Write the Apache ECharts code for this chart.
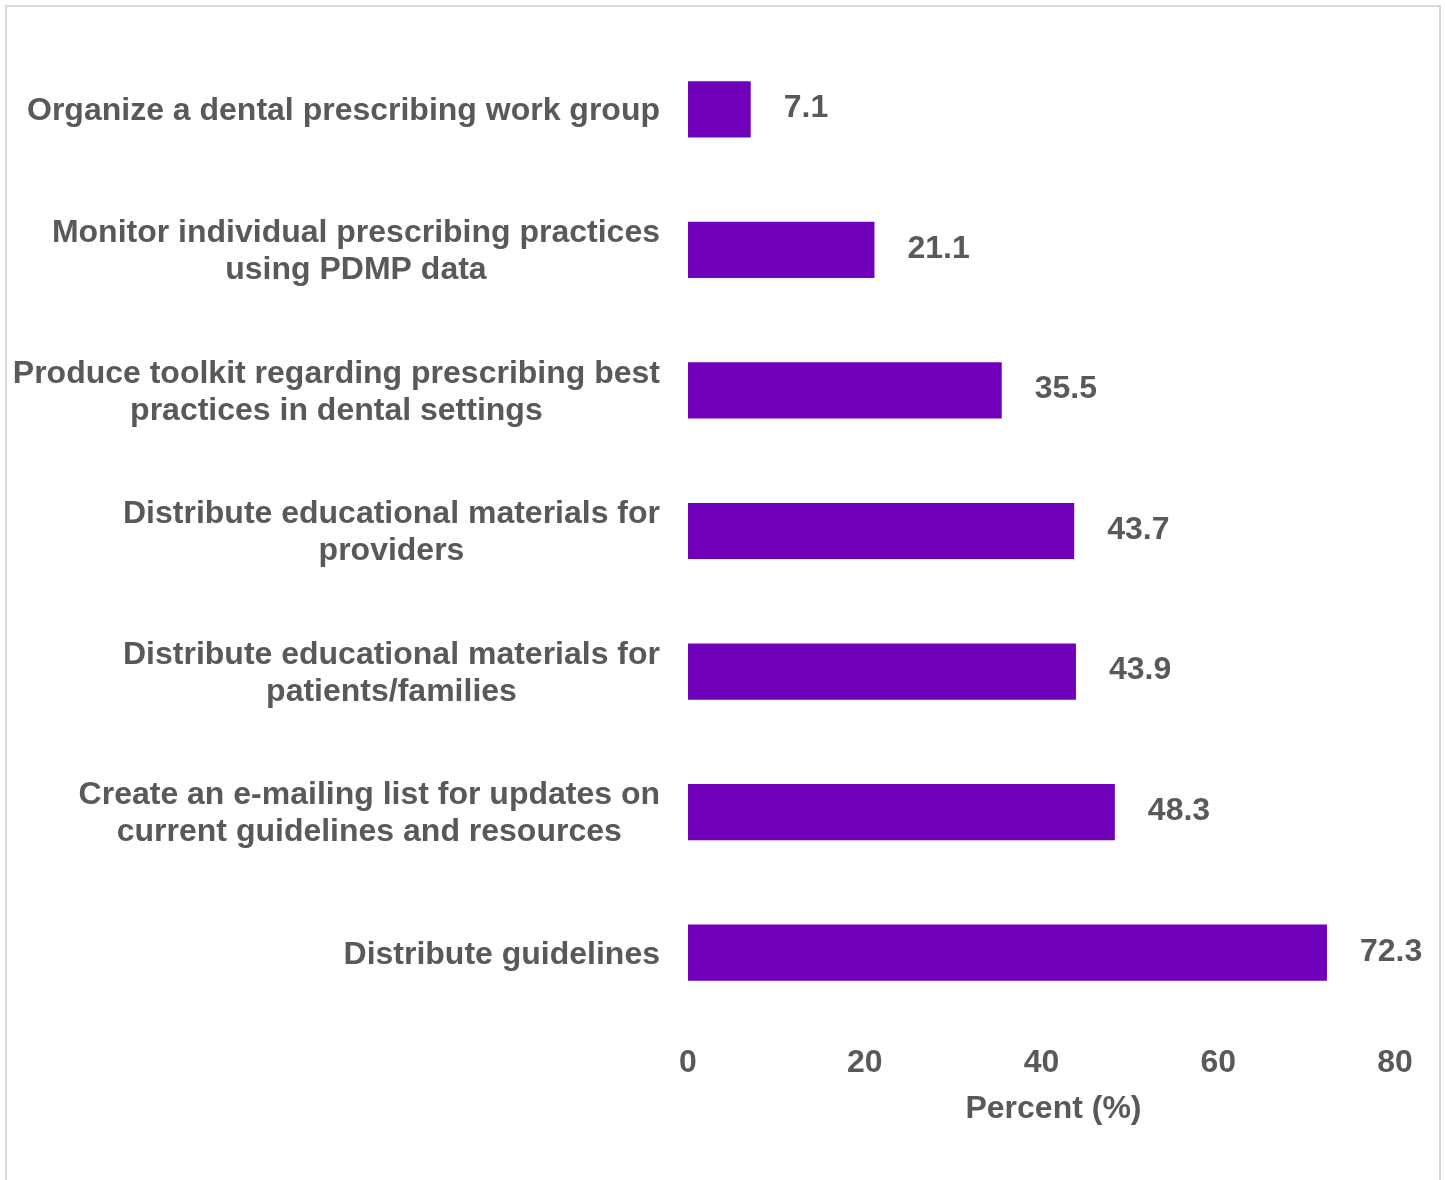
<!DOCTYPE html>
<html>
<head>
<meta charset="utf-8">
<title>Dental prescribing activities</title>
<script src="https://cdn.jsdelivr.net/npm/echarts@6/dist/echarts.min.js"></script>
<style>
  html, body { margin: 0; padding: 0; background: #ffffff; }
  #chart { width: 1445px; height: 1180px; }
</style>
</head>
<body>
<div id="chart"></div>
<script>
// Activities, listed top to bottom
const categories = [
  'Organize a dental prescribing work group',
  'Monitor individual prescribing practices\nusing PDMP data',
  'Produce toolkit regarding prescribing best\npractices in dental settings',
  'Distribute educational materials for\nproviders',
  'Distribute educational materials for\npatients/families',
  'Create an e-mailing list for updates on\ncurrent guidelines and resources',
  'Distribute guidelines'
];
// Percent of respondents for each activity
const percentValues = [7.1, 21.1, 35.5, 43.7, 43.9, 48.3, 72.3];
// Percent axis ticks
const axisMin = 0;
const axisMax = 80;
const axisStep = 20;

const textGray = '#595959';
const barColor = '#7000ba';

const chart = echarts.init(document.getElementById('chart'), null, { renderer: 'canvas' });

chart.setOption({
  backgroundColor: '#ffffff',
  animation: false,
  graphic: [{
    type: 'rect',
    shape: { x: 6, y: 6, width: 1434, height: 1180 },
    style: { fill: 'none', stroke: '#d9d9d9', lineWidth: 2 },
    silent: true
  }],
  grid: { left: 688, right: 50, top: 39, bottom: 157 },
  xAxis: {
    type: 'value',
    min: axisMin,
    max: axisMax,
    interval: axisStep,
    axisLine: { show: false },
    axisTick: { show: false },
    splitLine: { show: false },
    axisLabel: {
      margin: 24,
      color: textGray,
      fontFamily: '"Liberation Sans", Arial, sans-serif',
      fontWeight: 'bold',
      fontSize: 32
    },
    name: 'Percent (%)',
    nameLocation: 'middle',
    nameGap: 70,
    nameTextStyle: {
      color: textGray,
      fontFamily: '"Liberation Sans", Arial, sans-serif',
      fontWeight: 'bold',
      fontSize: 32,
      padding: [0, 0, 0, 24]
    }
  },
  yAxis: {
    type: 'category',
    data: categories,
    inverse: true,
    axisLine: { show: false },
    axisTick: { show: false },
    axisLabel: {
      margin: 28,
      align: 'right',
      padding: [4, 0, 0, 0],
      formatter: (v) => '{c|' + v + '}',
      rich: {
        c: {
          align: 'center',
          color: textGray,
          fontFamily: '"Liberation Sans", Arial, sans-serif',
          fontWeight: 'bold',
          fontSize: 32,
          lineHeight: 37
        }
      }
    }
  },
  series: [{
    type: 'bar',
    data: percentValues,
    barWidth: '40%',
    itemStyle: { color: barColor },
    label: {
      show: true,
      position: 'right',
      distance: 33,
      offset: [0, -1],
      color: textGray,
      fontFamily: '"Liberation Sans", Arial, sans-serif',
      fontWeight: 'bold',
      fontSize: 32,
      formatter: (p) => p.value.toFixed(1)
    }
  }]
});
</script>
</body>
</html>
